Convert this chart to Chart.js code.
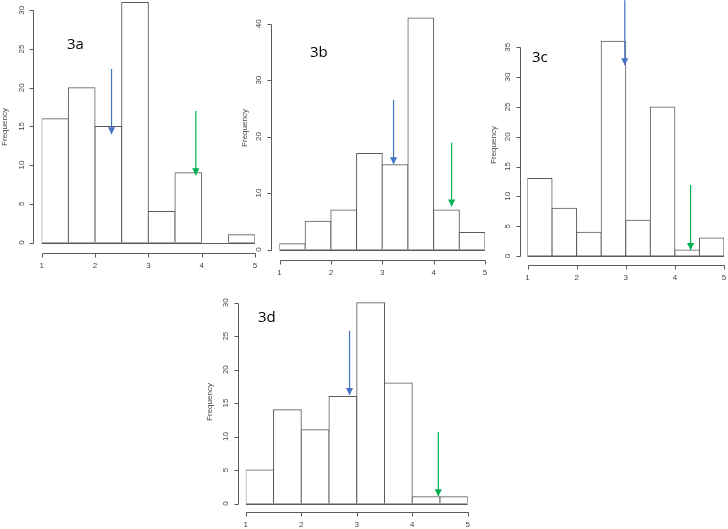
<!DOCTYPE html>
<html>
<head>
<meta charset="utf-8">
<script src="https://cdn.jsdelivr.net/npm/chart.js@4.4.1/dist/chart.umd.min.js"></script>
<style>
  html, body { margin: 0; padding: 0; background: #fff; }
  #wrap { position: relative; width: 728px; height: 529px; overflow: hidden; }
  #wrap canvas { position: absolute; left: 0; top: 0; }
</style>
</head>
<body>
<div id="wrap">
  <canvas id="c3a" width="728" height="529"></canvas>
  <canvas id="c3b" width="728" height="529"></canvas>
  <canvas id="c3c" width="728" height="529"></canvas>
  <canvas id="c3d" width="728" height="529"></canvas>
</div>
<script>
// histogram bins (width 0.5, from 1 to 5) -> bin centres
const binCenters = [1.25, 1.75, 2.25, 2.75, 3.25, 3.75, 4.25, 4.75];
const xTickValues = [1, 2, 3, 4, 5];

// frequencies
const counts3a = [16, 20, 15, 31, 4, 9, 0, 1];
const counts3b = [1, 5, 7, 17, 15, 41, 7, 3];
const counts3c = [13, 8, 4, 36, 6, 25, 1, 3];
const counts3d = [5, 14, 11, 16, 30, 18, 1, 1];

const yTicks3a = [0, 5, 10, 15, 20, 25, 30];
const yTicks3b = [0, 10, 20, 30, 40];
const yTicks3c = [0, 5, 10, 15, 20, 25, 30, 35];
const yTicks3d = [0, 5, 10, 15, 20, 25, 30];

// arrows: [x, y start, y tip]
const blueArrow3a = [2.31, 22.4, 14.3];
const greenArrow3a = [3.89, 17.0, 9.0];
const blueArrow3b = [3.22, 26.5, 15.4];
const greenArrow3b = [4.35, 18.9, 7.9];
const blueArrow3c = [2.98, 42.9, 32.3];
const greenArrow3c = [4.32, 11.9, 1.3];
const blueArrow3d = [2.87, 25.8, 16.5];
const greenArrow3d = [4.47, 10.7, 1.4];

const AXIS_COLOR = '#5a5a5a';
const TEXT_COLOR = '#444';
const BLUE = '#4472c4';
const GREEN = '#00b050';

// page placement of each panel (page pixels)
const panels = [
  { id: 'c3a', name: '3a', counts: counts3a, yTicks: yTicks3a, yMax: 31.33,
    blue: blueArrow3a, green: greenArrow3a,
    area: { left: 41.7, right: 255, top: 0, bottom: 242.5 },
    yAxisX: 33.3, xAxisY: 252.7, freq: [5, 127], label: [67, 45] },
  { id: 'c3b', name: '3b', counts: counts3b, yTicks: yTicks3b, yMax: 44.2,
    blue: blueArrow3b, green: greenArrow3b,
    area: { left: 279.5, right: 485, top: 0, bottom: 249.5 },
    yAxisX: 271, xAxisY: 260, freq: [245, 128], label: [310, 53] },
  { id: 'c3c', name: '3c', counts: counts3c, yTicks: yTicks3c, yMax: 42.93,
    blue: blueArrow3c, green: greenArrow3c,
    area: { left: 527.5, right: 724, top: 0, bottom: 256 },
    yAxisX: 520, xAxisY: 265, freq: [494, 145], label: [532, 58] },
  { id: 'c3d', name: '3d', counts: counts3d, yTicks: yTicks3d, yMax: 33.39,
    blue: blueArrow3d, green: greenArrow3d,
    area: { left: 245.8, right: 467.7, top: 280, bottom: 503.5 },
    yAxisX: 237.7, xAxisY: 512, freq: [210, 402], label: [258, 317.5] }
];

// R-style detached axes, drawn with the chart's own scales
const rAxesPlugin = {
  id: 'rAxes',
  afterDraw(chart, args, opts) {
    const { ctx } = chart;
    const x = chart.scales.x, y = chart.scales.y;
    ctx.save();
    ctx.strokeStyle = AXIS_COLOR;
    ctx.lineWidth = 1;
    ctx.fillStyle = TEXT_COLOR;
    ctx.font = '8px "Liberation Sans", Arial, sans-serif';

    // baseline of the histogram (empty bins show as a line)
    const by = Math.round(y.getPixelForValue(0)) + 0.5;
    ctx.beginPath();
    ctx.moveTo(x.getPixelForValue(xTickValues[0]), by);
    ctx.lineTo(x.getPixelForValue(xTickValues[xTickValues.length - 1]), by);
    ctx.stroke();

    // y axis
    const ax = Math.round(opts.yAxisX) + 0.5;
    const yt = opts.yTicks;
    ctx.beginPath();
    ctx.moveTo(ax, Math.round(y.getPixelForValue(yt[0])) + 0.5);
    ctx.lineTo(ax, Math.round(y.getPixelForValue(yt[yt.length - 1])) + 0.5);
    yt.forEach(v => {
      const py = Math.round(y.getPixelForValue(v)) + 0.5;
      ctx.moveTo(ax, py);
      ctx.lineTo(ax - 4, py);
    });
    ctx.stroke();
    ctx.textAlign = 'center';
    ctx.textBaseline = 'middle';
    yt.forEach(v => {
      const py = y.getPixelForValue(v);
      ctx.save();
      ctx.translate(opts.yAxisX - 12, py);
      ctx.rotate(-Math.PI / 2);
      ctx.fillText(String(v), 0, 0);
      ctx.restore();
    });

    // x axis
    const ay = Math.round(opts.xAxisY) + 0.5;
    const xt = opts.xTicks;
    ctx.beginPath();
    ctx.moveTo(Math.round(x.getPixelForValue(xt[0])) + 0.5, ay);
    ctx.lineTo(Math.round(x.getPixelForValue(xt[xt.length - 1])) + 0.5, ay);
    xt.forEach(v => {
      const px = Math.round(x.getPixelForValue(v)) + 0.5;
      ctx.moveTo(px, ay);
      ctx.lineTo(px, ay + 4);
    });
    ctx.stroke();
    xt.forEach(v => {
      ctx.fillText(String(v), x.getPixelForValue(v), opts.xAxisY + 13);
    });

    // axis title
    ctx.save();
    ctx.translate(opts.freq[0], opts.freq[1]);
    ctx.rotate(-Math.PI / 2);
    ctx.fillText('Frequency', 0, 0);
    ctx.restore();

    // panel name
    ctx.fillStyle = '#000';
    ctx.font = '15px "Open Sans", "Liberation Sans", sans-serif';
    ctx.textAlign = 'left';
    ctx.fillText(opts.name, opts.label[0], opts.label[1]);
    ctx.restore();
  }
};

// arrowheads at the tip of each arrow dataset
const arrowHeadPlugin = {
  id: 'arrowHeads',
  afterDatasetsDraw(chart) {
    const { ctx } = chart;
    chart.data.datasets.forEach((ds, i) => {
      if (!ds.isArrow) return;
      const pts = chart.getDatasetMeta(i).data;
      const tip = pts[pts.length - 1];
      ctx.save();
      ctx.fillStyle = ds.borderColor;
      ctx.beginPath();
      ctx.moveTo(tip.x, tip.y);
      ctx.lineTo(tip.x - 3.6, tip.y - 7);
      ctx.lineTo(tip.x + 3.6, tip.y - 7);
      ctx.closePath();
      ctx.fill();
      ctx.restore();
    });
  }
};

function arrowDataset(arrow, color) {
  return {
    type: 'line',
    isArrow: true,
    data: [{ x: arrow[0], y: arrow[1] }, { x: arrow[0], y: arrow[2] - 0.3 }],
    borderColor: color,
    borderWidth: 1.2,
    pointRadius: 0,
    order: 0
  };
}

panels.forEach(p => {
  const ctx = document.getElementById(p.id).getContext('2d');
  new Chart(ctx, {
    type: 'bar',
    data: {
      datasets: [
        {
          data: binCenters.map((c, i) => ({ x: c, y: p.counts[i] })),
          backgroundColor: '#fff',
          borderColor: AXIS_COLOR,
          borderWidth: 1,
          borderSkipped: false,
          inflateAmount: 0.5,
          barPercentage: 1,
          categoryPercentage: 1,
          order: 2
        },
        arrowDataset(p.blue, BLUE),
        arrowDataset(p.green, GREEN)
      ]
    },
    options: {
      responsive: false,
      animation: false,
      devicePixelRatio: 1,
      layout: {
        padding: {
          left: p.area.left,
          right: 728 - p.area.right,
          top: p.area.top,
          bottom: 529 - p.area.bottom
        }
      },
      scales: {
        x: { type: 'linear', min: 1, max: 5, offset: false, display: false },
        y: { min: 0, max: p.yMax, display: false }
      },
      plugins: {
        legend: { display: false },
        tooltip: { enabled: false },
        rAxes: {
          yTicks: p.yTicks,
          xTicks: xTickValues,
          yAxisX: p.yAxisX,
          xAxisY: p.xAxisY,
          freq: p.freq,
          label: p.label,
          name: p.name
        }
      }
    },
    plugins: [rAxesPlugin, arrowHeadPlugin]
  });
});
</script>
</body>
</html>
